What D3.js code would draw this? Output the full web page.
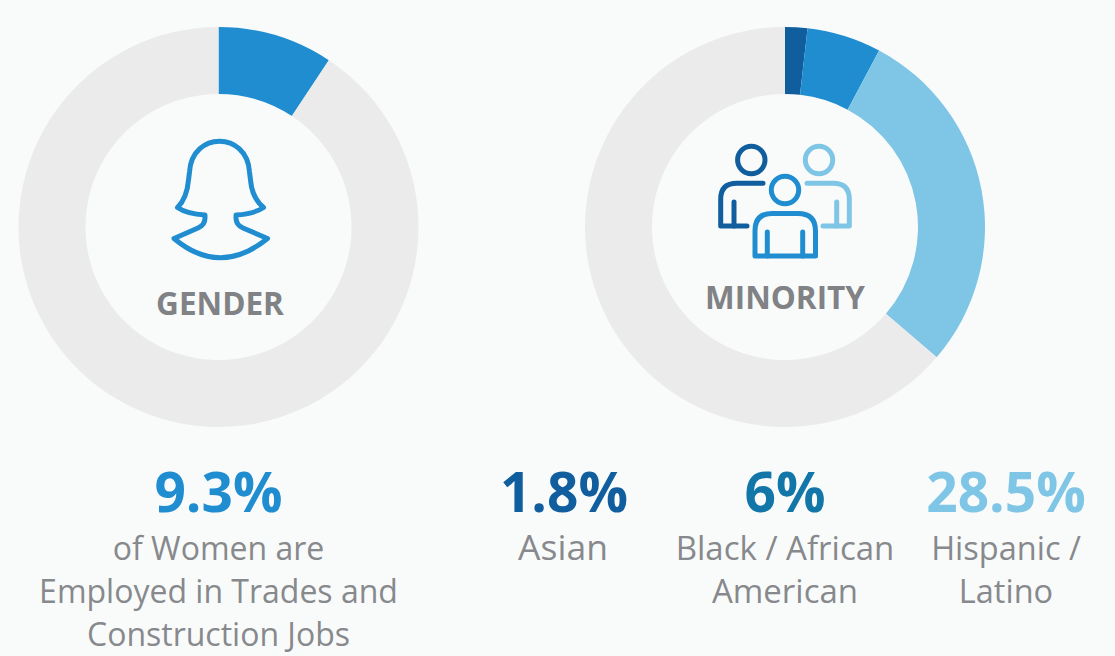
<!DOCTYPE html>
<html>
<head>
<meta charset="utf-8">
<script src="https://cdnjs.cloudflare.com/ajax/libs/d3/7.8.5/d3.min.js"></script>
<style>
  html, body { margin: 0; padding: 0; background: #f9fbfb; }
  svg { display: block; }
  text { font-family: "Open Sans", sans-serif; text-anchor: middle; }
  .big { font-weight: 700; font-size: 55px; }
  .label { font-size: 32px; fill: #87898c; }
  .title { font-weight: 700; font-size: 31.5px; fill: #808285; }
  .icon { fill: none; stroke-width: 5; stroke-linecap: round; stroke-linejoin: round; }
</style>
</head>
<body>
<div id="chart"></div>
<script>
var genderNames = ["Women"];
var genderValues = [9.3];
var genderColors = ["#1f8dd0"];

var minorityNames = ["Asian", "Black / African American", "Hispanic / Latino"];
var minorityValues = [1.8, 6, 28.5];
var minorityColors = ["#115e9f", "#1f8dd0", "#7fc6e6"];

var restColor = "#ebebeb";

var width = 1115, height = 656;
var outerR = 200, innerR = 133;

var svg = d3.select("#chart").append("svg")
    .attr("width", width)
    .attr("height", height);

var arc = d3.arc().innerRadius(innerR).outerRadius(outerR);

// donut with the unfilled rest of the 100% in grey
function donut(cx, cy, values, colors) {
  var rest = 100 - d3.sum(values);
  var pie = d3.pie().sort(null).value(function(d) { return d; });
  var fills = colors.concat([restColor]);
  svg.append("g")
      .attr("transform", "translate(" + cx + "," + cy + ")")
    .selectAll("path")
    .data(pie(values.concat([rest])))
    .enter().append("path")
      .attr("d", arc)
      .attr("fill", function(d, i) { return fills[i]; });
}

donut(218.5, 227, genderValues, genderColors);
donut(785, 227, minorityValues, minorityColors);

// icons
function iconPath(d, color) {
  svg.append("path").attr("class", "icon").attr("d", d).attr("stroke", color);
}
function iconHead(cx, cy, color) {
  svg.append("circle").attr("class", "icon")
      .attr("cx", cx).attr("cy", cy).attr("r", 13.7).attr("stroke", color);
}

iconPath("M174 238.5 Q220 277 267.5 238.5 L243 228 Q236 225 236 218 L236 215 Q254 214 263.5 207.5 Q252 198 250.5 180 L249.5 172 C247 131 192 131 189.5 172 L188.5 180 Q187 198 177.5 207.5 Q187 214 205 215 L205 218 Q205 225 198 228 Z", "#1f8dd0");

iconHead(751.3, 160, "#115e9f");
iconPath("M763 183.3 H737 Q720.7 183.3 720.7 199 V226 H747", "#115e9f");
iconPath("M734 202 V226", "#115e9f");

iconHead(819, 160, "#7fc6e6");
iconPath("M807 183.3 H833 Q849.3 183.3 849.3 199 V226 H823", "#7fc6e6");
iconPath("M836.7 202 V226", "#7fc6e6");

iconHead(785, 190, "#1f8dd0");
iconPath("M755 256 V231 Q755 213.5 772 213.5 H798 Q815.5 213.5 815.5 231 V256 Z", "#1f8dd0");
iconPath("M767.3 232 V256 M802.7 232 V256", "#1f8dd0");

// texts
function texts(x, lines, y0, size) {
  lines.forEach(function(t, i) {
    svg.append("text").attr("class", "label").attr("x", x).attr("y", y0 + i * 43)
        .style("font-size", size + "px").text(t);
  });
}
function big(x, t, color) {
  svg.append("text").attr("class", "big").attr("x", x).attr("y", 512).attr("fill", color).text(t);
}

svg.append("text").attr("class", "title").attr("x", 220).attr("y", 315).text("GENDER");
svg.append("text").attr("class", "title").attr("x", 785).attr("y", 309).text("MINORITY");

big(218.5, genderValues[0] + "%", "#1f8dd0");
texts(218.5, ["of Women are", "Employed in Trades and", "Construction Jobs"], 560, 32);

big(564, minorityValues[0] + "%", "#115e9f");
texts(563, ["Asian"], 560, 35.5);

big(785, minorityValues[1] + "%", "#1276a8");
texts(785, ["Black / African", "American"], 560, 33);

big(1006, minorityValues[2] + "%", "#7fc6e6");
texts(1006, ["Hispanic /", "Latino"], 560, 32.5);
</script>
</body>
</html>
